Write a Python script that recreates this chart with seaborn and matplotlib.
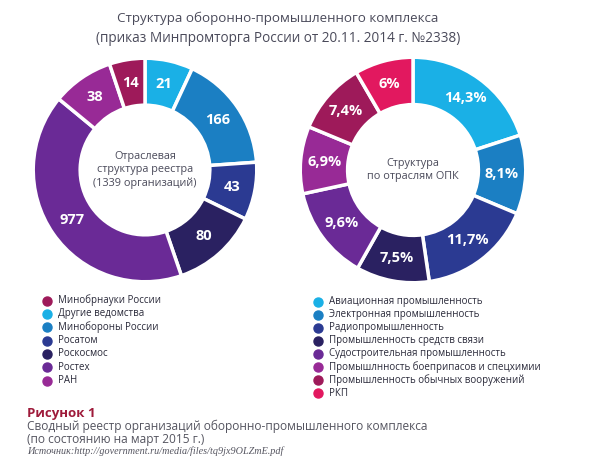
import matplotlib
matplotlib.use("Agg")
import matplotlib.pyplot as plt
from matplotlib.lines import Line2D
import numpy as np
import seaborn as sns

sns.set_theme(style="white")
plt.rcParams['font.family'] = ['Open Sans', 'DejaVu Sans']

# ---- data ----
left_labels = ["Другие ведомства", "Минобороны России", "Росатом", "Роскосмос",
               "Ростех", "РАН", "Минобрнауки России"]
left_counts = [21, 166, 43, 80, 977, 38, 14]
# wedge sizes as drawn in the reference (degrees, not proportional to counts)
left_wedge_deg = [25, 61, 30, 45, 148.5, 32, 18.5]
left_colors = ["#1ab0e6", "#1b7fc3", "#2b3a92", "#2a2161", "#6a2a96", "#982a96", "#9e1a5a"]
left_legend_order = [6, 0, 1, 2, 3, 4, 5]

right_labels = ["Авиационная промышленность", "Электронная промышленность",
                "Радиопромышленность", "Промышленность средств связи",
                "Судостроительная промышленность", "Промышлнность боеприпасов и спецхимии",
                "Промышленность обычных вооружений", "РКП"]
right_pct = [14.3, 8.1, 11.7, 7.5, 9.6, 6.9, 7.4, 6.0]
right_pct_text = ["14,3%", "8,1%", "11,7%", "7,5%", "9,6%", "6,9%", "7,4%", "6%"]
right_colors = ["#1ab0e6", "#1b7fc3", "#2b3a92", "#2a2161", "#6a2a96", "#982a96", "#9e1a5a", "#e2185f"]

title_lines = ["Структура оборонно-промышленного комплекса",
               "(приказ Минпромторга России от 20.11. 2014 г. №2338)"]
left_center_text = "Отраслевая\nструктура реестра\n(1339 организаций)"
right_center_text = "Структура\nпо отраслям ОПК"
fig_label = "Рисунок 1"
caption = "Сводный реестр организаций оборонно-промышленного комплекса\n(по состоянию на март 2015 г.)"
source = "Источник:http://government.ru/media/files/tq9jx9OLZmE.pdf"

W, H = 600, 466
fig = plt.figure(figsize=(W / 100, H / 100), dpi=100)
fig.patch.set_facecolor("white")

text_gray = "#4a4a5a"

def donut(ax, sizes, colors, labels):
    ax.pie(sizes, colors=colors, startangle=90, counterclock=False,
           radius=1.0, wedgeprops=dict(width=0.42, edgecolor="white", linewidth=2.5))
    total = sum(sizes)
    cum = 0
    for s, lab in zip(sizes, labels):
        mid = 90 - (cum + s / 2) / total * 360
        r = 0.79
        ax.text(r * np.cos(np.radians(mid)), r * np.sin(np.radians(mid)), lab,
                ha="center", va="center", color="white", fontsize=10.5, fontweight="bold")
        cum += s
    ax.set_xlim(-1.02, 1.02)
    ax.set_ylim(-1.02, 1.02)
    ax.set_aspect("equal")
    ax.axis("off")

# left donut
axL = fig.add_axes([(145 - 114) / W, 1 - (170 + 114) / H, 228 / W, 228 / H])
donut(axL, left_wedge_deg, left_colors, [str(c) for c in left_counts])
axL.text(0, 0, left_center_text, ha="center", va="center", fontsize=7.8,
         color=text_gray, linespacing=1.25)

# right donut
axR = fig.add_axes([(413 - 115) / W, 1 - (170 + 115) / H, 230 / W, 230 / H])
donut(axR, right_pct, right_colors, right_pct_text)
axR.text(0, 0, right_center_text, ha="center", va="center", fontsize=7.8,
         color=text_gray, linespacing=1.25)

# title
fig.text(278 / W, 1 - 18 / H, title_lines[0], ha="center", va="center",
         fontsize=9.6, color=text_gray)
fig.text(278 / W, 1 - 38 / H, title_lines[1], ha="center", va="center",
         fontsize=9.8, color=text_gray)

def make_legend(labels, colors, order, x, y, spacing):
    for i, k in enumerate(order):
        yy = y + i * spacing
        fig.add_artist(Line2D([x / W], [1 - yy / H], marker="o", markersize=6.5,
                              color=colors[k], transform=fig.transFigure, linestyle="none"))
        fig.text((x + 11) / W, 1 - yy / H, labels[k], ha="left", va="center",
                 fontsize=7.0, color="#2a2a3a")

make_legend(left_labels, left_colors, left_legend_order, 46.5, 300.5, 13.35)
make_legend(right_labels, right_colors, list(range(8)), 318, 301.5, 13.1)

fig.text(27 / W, 1 - 414 / H, fig_label, ha="left", va="center", fontsize=9.5,
         fontweight="bold", color="#9e1a3a")
fig.text(27 / W, 1 - 433 / H, caption, ha="left", va="center", fontsize=8.6,
         color="#555560", linespacing=1.05)
fig.text(27 / W, 1 - 451 / H, source, ha="left", va="center", fontsize=7.3,
         style="italic", family=["Liberation Serif"], color="#555560")

fig.savefig("out.png", dpi=100, facecolor="white")
